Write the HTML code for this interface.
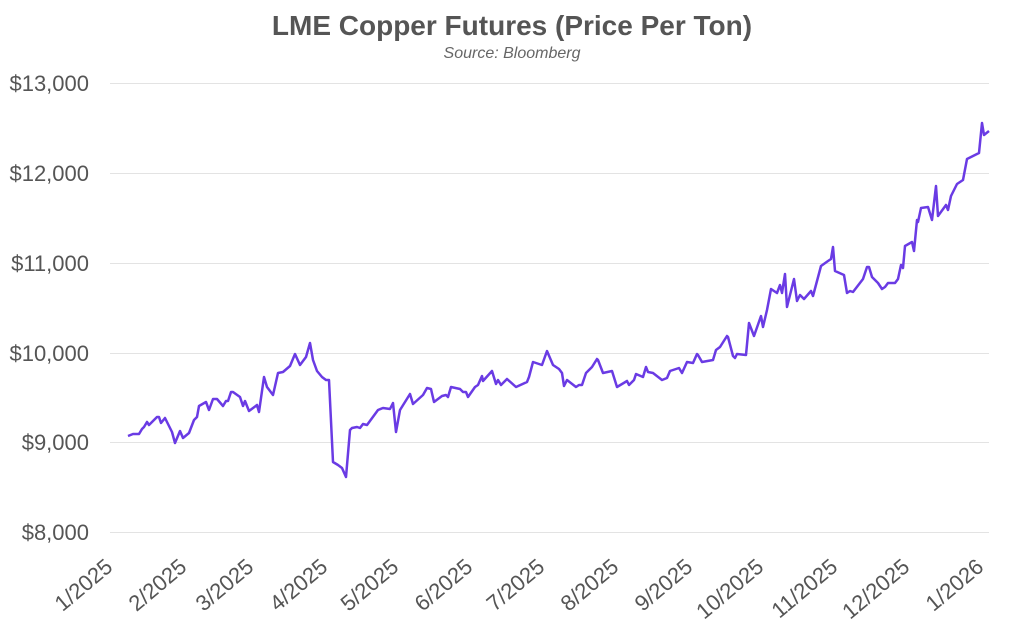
<!DOCTYPE html>
<html><head><meta charset="utf-8"><style>
html,body{margin:0;padding:0;background:#fff;}
svg{display:block;font-family:"Liberation Sans",sans-serif;}
</style></head><body>
<svg width="1024" height="625" viewBox="0 0 1024 625" xmlns="http://www.w3.org/2000/svg">
<text x="512" y="35" text-anchor="middle" font-size="28" font-weight="bold" fill="#555">LME Copper Futures (Price Per Ton)</text>
<text x="512" y="58" text-anchor="middle" font-size="16" font-style="italic" fill="#666">Source: Bloomberg</text>
<g stroke="#e3e3e3" stroke-width="1">
<line x1="110" y1="83.5" x2="989" y2="83.5"/>
<line x1="110" y1="173.5" x2="989" y2="173.5"/>
<line x1="110" y1="263.5" x2="989" y2="263.5"/>
<line x1="110" y1="353.5" x2="989" y2="353.5"/>
<line x1="110" y1="442.5" x2="989" y2="442.5"/>
<line x1="110" y1="532.5" x2="989" y2="532.5"/>
</g>
<g font-size="22" fill="#555" text-anchor="end">
<text x="89" y="91">$13,000</text>
<text x="89" y="181">$12,000</text>
<text x="89" y="271">$11,000</text>
<text x="89" y="361">$10,000</text>
<text x="89" y="450">$9,000</text>
<text x="89" y="540">$8,000</text>
</g>
<g font-size="22" fill="#555" text-anchor="end">
<text transform="translate(114,569) rotate(-40)">1/2025</text>
<text transform="translate(188,569) rotate(-40)">2/2025</text>
<text transform="translate(255,569) rotate(-40)">3/2025</text>
<text transform="translate(329,569) rotate(-40)">4/2025</text>
<text transform="translate(400,569) rotate(-40)">5/2025</text>
<text transform="translate(474,569) rotate(-40)">6/2025</text>
<text transform="translate(546,569) rotate(-40)">7/2025</text>
<text transform="translate(620,569) rotate(-40)">8/2025</text>
<text transform="translate(694,569) rotate(-40)">9/2025</text>
<text transform="translate(765,569) rotate(-40)">10/2025</text>
<text transform="translate(839,569) rotate(-40)">11/2025</text>
<text transform="translate(911,569) rotate(-40)">12/2025</text>
<text transform="translate(985,569) rotate(-40)">1/2026</text>
</g>
<polyline fill="none" stroke="#6a3be4" stroke-width="2.5" stroke-linejoin="round" points="
128,436 133,434 139,434 142,429 144,427 147,422 149,425 157,417 159,417 161,423 165,418 172,432 175,443 180,431 183,438 189,433 194,420 197,417 199,406 206,402 209,410 213,399 217,399 223,406 226,401 228,401 231,392 233,392 240,397 243,406 245,401 249,411 257,405 259,412 264,377 267,387 273,395 278,373 283,372 290,366 295,354 300,365 306,357 310,343 313,360 317,371 322,377 326,380 329,380 333,462 338,465 342,468 346,477 350,430 352,428 357,427 360,428 363,424 367,425 378,410 383,408 390,409 393,403 396,432 400,410 410,394 413,404 423,395 427,388 431,389 434,402 442,396 446,395 448,397 451,387 460,389 463,392 466,392 468,397 475,387 478,385 482,376 483,381 492,371 496,384 498,380 501,385 507,379 516,387 527,382 529,377 533,362 542,365 547,351 553,365 559,369 562,373 564,386 567,380 576,387 579,385 582,385 586,373 592,367 597,359 598,360 603,373 612,371 617,387 627,381 629,385 634,380 636,374 643,377 646,367 648,372 653,373 662,380 667,378 670,371 679,368 682,373 687,362 693,363 697,354 698,355 702,362 713,360 716,350 720,347 727,336 728,337 733,356 735,358 737,354 746,355 749,323 754,336 761,316 763,327 767,310 771,289 777,293 780,285 782,293 785,274 787,307 794,279 797,301 800,295 804,299 811,291 813,296 821,266 828,261 831,259 833,247 835,271 844,275 847,293 850,291 853,292 863,279 867,267 869,267 872,277 878,283 882,289 885,287 888,283 895,283 898,279 901,265 903,268 905,246 912,242 914,251 917,220 918,222 921,208 928,207 932,220 936,186 938,216 946,205 948,210 951,196 957,184 963,180 967,159 979,153 982,123 984,135 989,131"/>
</svg>
</body></html>
